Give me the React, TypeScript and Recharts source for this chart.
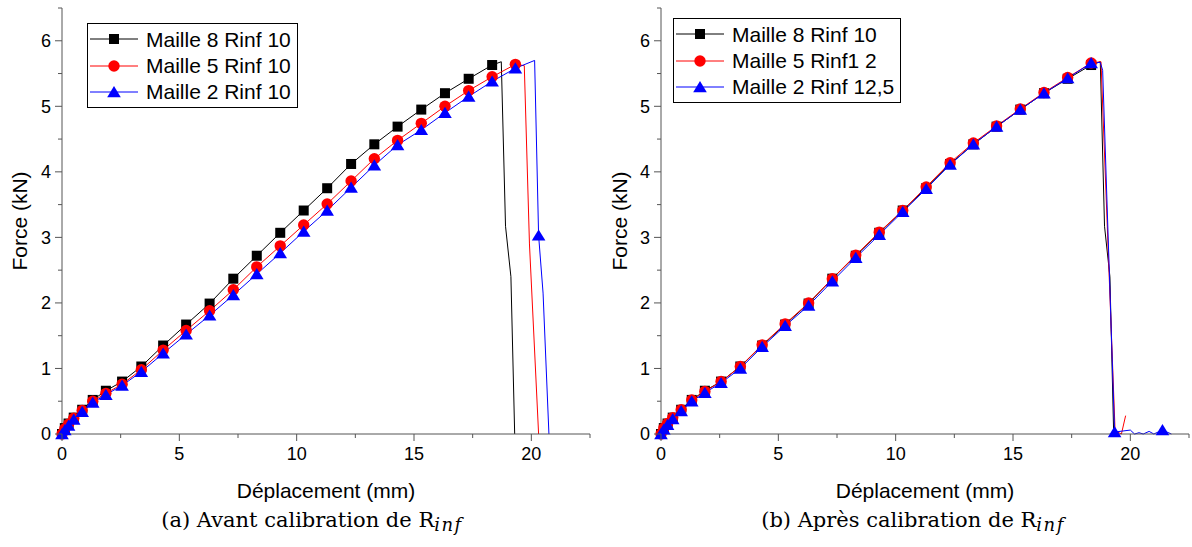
import { LineChart, Line, XAxis, YAxis, Legend } from "recharts"

const SANS = '"Liberation Sans", Arial, sans-serif'
const SERIF = '"DejaVu Serif", serif'
const AXIS = "#555555"

// axes
const xTicks = [0, 2.5, 5, 7.5, 10, 12.5, 15, 17.5, 20, 22.5]
const yTicks = [0, 0.5, 1, 1.5, 2, 2.5, 3, 3.5, 4, 4.5, 5, 5.5, 6, 6.5]

// déplacement (mm) of the marked points, shared by all curves
const stepX = [
  0, 0.12, 0.28, 0.5, 0.86, 1.31, 1.87, 2.56, 3.38, 4.31, 5.29, 6.29,
  7.3, 8.3, 9.3, 10.3, 11.3, 12.32, 13.31, 14.3, 15.31, 16.32, 17.33, 18.33,
]

// (a) avant calibration
const m8Force = [
  0, 0.09, 0.16, 0.25, 0.37, 0.52, 0.66, 0.8, 1.03, 1.35, 1.67, 1.99,
  2.37, 2.72, 3.07, 3.41, 3.75, 4.12, 4.42, 4.69, 4.95, 5.2, 5.42, 5.63,
]
const m8TailX = [18.72, 18.9, 19.13, 19.29]
const m8TailF = [5.68, 3.17, 2.4, 0]
const m8TailMarks: number[] = []

const m5aForce = [
  0, 0.08, 0.15, 0.24, 0.36, 0.5, 0.62, 0.76, 0.98, 1.28, 1.58, 1.88,
  2.2, 2.55, 2.87, 3.19, 3.51, 3.86, 4.2, 4.48, 4.74, 5.0, 5.24, 5.45,
]
const m5aTailX = [19.32, 19.7, 19.92, 20.31]
const m5aTailF = [5.64, 5.62, 2.9, 0]
const m5aTailMarks = [0]

const m2aForce = [
  0, 0.06, 0.13, 0.22, 0.34, 0.48, 0.6, 0.74, 0.95, 1.23, 1.52, 1.81,
  2.12, 2.44, 2.76, 3.09, 3.41, 3.76, 4.1, 4.41, 4.64, 4.9, 5.15, 5.38,
]
const m2aTailX = [19.32, 20.14, 20.31, 20.5, 20.75]
const m2aTailF = [5.58, 5.7, 3.03, 2.15, 0]
const m2aTailMarks = [0, 2]

// (b) après calibration
const m5bForce = [
  0, 0.09, 0.16, 0.25, 0.37, 0.52, 0.65, 0.8, 1.03, 1.36, 1.68, 2.0,
  2.37, 2.73, 3.08, 3.41, 3.77, 4.14, 4.44, 4.7, 4.96, 5.21, 5.44, 5.66,
]
const m5bTailX = [18.75, 19.35, 19.62, 19.8]
const m5bTailF = [5.68, 0.05, 0, 0.28]
const m5bTailMarks: number[] = []

const m2bForce = [
  0, 0.07, 0.14, 0.23, 0.35, 0.5, 0.63, 0.78, 1.0, 1.33, 1.65, 1.96,
  2.33, 2.69, 3.04, 3.39, 3.74, 4.11, 4.42, 4.69, 4.95, 5.2, 5.43, 5.66,
]
const m2bTailX = [18.72, 18.82, 19.33, 20.0, 20.18, 20.37, 20.55, 20.8, 21.0, 21.37, 21.75]
const m2bTailF = [5.67, 5.55, 0.03, 0.06, 0, 0.02, 0, 0.04, 0, 0.06, 0]
const m2bTailMarks = [2, 9]

type Pt = { x: number; y: number; mark: boolean }
type Serie = { name: string; color: string; shape: string; data: Pt[] }

const build = (f: number[], tx: number[], tf: number[], tm: number[]): Pt[] => [
  ...stepX.map((x, i) => ({ x, y: f[i], mark: true })),
  ...tx.map((x, i) => ({ x, y: tf[i], mark: tm.includes(i) })),
]

const leftSeries: Serie[] = [
  { name: "Maille 8 Rinf 10", color: "#000000", shape: "square", data: build(m8Force, m8TailX, m8TailF, m8TailMarks) },
  { name: "Maille 5 Rinf 10", color: "#ff0000", shape: "circle", data: build(m5aForce, m5aTailX, m5aTailF, m5aTailMarks) },
  { name: "Maille 2 Rinf 10", color: "#0000ff", shape: "triangle", data: build(m2aForce, m2aTailX, m2aTailF, m2aTailMarks) },
]

const rightSeries: Serie[] = [
  { name: "Maille 8 Rinf 10", color: "#000000", shape: "square", data: build(m8Force, m8TailX, m8TailF, m8TailMarks) },
  { name: "Maille 5 Rinf1 2", color: "#ff0000", shape: "circle", data: build(m5bForce, m5bTailX, m5bTailF, m5bTailMarks) },
  { name: "Maille 2 Rinf 12,5", color: "#0000ff", shape: "triangle", data: build(m2bForce, m2bTailX, m2bTailF, m2bTailMarks) },
]

function Marker({ shape, cx, cy, color }: { shape: string; cx: number; cy: number; color: string }) {
  if (shape === "square") return <rect x={cx - 5} y={cy - 5} width={10} height={10} fill={color} />
  if (shape === "circle") return <circle cx={cx} cy={cy} r={5.7} fill={color} />
  return <polygon points={`${cx},${cy - 6} ${cx - 6.8},${cy + 5.2} ${cx + 6.8},${cy + 5.2}`} fill={color} />
}

const dotFor = (shape: string, color: string) => (p: any) =>
  p.payload.mark ? (
    <g key={p.index}>
      <Marker shape={shape} cx={p.cx} cy={p.cy} color={color} />
    </g>
  ) : (
    <g key={p.index} />
  )

function XTick(props: any) {
  const { x, y, payload } = props
  const major = payload.value % 5 === 0
  return (
    <g>
      <line x1={x} x2={x} y1={y} y2={y + (major ? 7 : 4)} stroke={AXIS} />
      {major && (
        <text x={x} y={y + 26} textAnchor="middle" fontSize={18} fontFamily={SANS} fill="#000">
          {payload.value}
        </text>
      )}
    </g>
  )
}

function YTick(props: any) {
  const { x, y, payload } = props
  const major = Number.isInteger(payload.value)
  return (
    <g>
      <line x1={x} x2={x - (major ? 7 : 4)} y1={y} y2={y} stroke={AXIS} />
      {major && (
        <text x={x - 11} y={y} dy="0.36em" textAnchor="end" fontSize={18} fontFamily={SANS} fill="#000">
          {payload.value}
        </text>
      )}
    </g>
  )
}

function LegendBox({ series }: { series: Serie[] }) {
  return (
    <div
      style={{
        border: "1px solid #000",
        background: "#fff",
        padding: "2px 6px 2px 2px",
        fontFamily: SANS,
        fontSize: 21,
        lineHeight: 1,
      }}
    >
      {series.map((s) => (
        <div key={s.name} style={{ display: "flex", alignItems: "center", height: 26.4 }}>
          <svg width={48} height={20} style={{ display: "block" }}>
            <line x1={0} x2={48} y1={10} y2={10} stroke={s.color} strokeWidth={1} />
            <Marker shape={s.shape} cx={24} cy={10} color={s.color} />
          </svg>
          <span style={{ marginLeft: 8, whiteSpace: "nowrap" }}>{s.name}</span>
        </div>
      ))}
    </div>
  )
}

function Panel({
  width,
  marginRight,
  yAxisWidth,
  series,
  legendLeft,
  legendTop,
}: {
  width: number
  marginRight: number
  yAxisWidth: number
  series: Serie[]
  legendLeft: number
  legendTop: number
}) {
  return (
    <LineChart width={width} height={512} margin={{ top: 8, right: marginRight, bottom: 48, left: 0 }}>
      <XAxis
        type="number"
        dataKey="x"
        domain={[0, 22.5]}
        ticks={xTicks}
        interval={0}
        height={30}
        tickSize={0}
        tickMargin={0}
        tickLine={false}
        stroke={AXIS}
        tick={<XTick />}
        label={{ value: "Déplacement (mm)", position: "bottom", offset: 19, fontSize: 21, fontFamily: SANS, fill: "#000" }}
      />
      <YAxis
        type="number"
        domain={[0, 6.5]}
        ticks={yTicks}
        interval={0}
        width={yAxisWidth}
        tickSize={0}
        tickMargin={0}
        tickLine={false}
        stroke={AXIS}
        tick={<YTick />}
        label={{
          value: "Force (kN)",
          angle: -90,
          position: "insideLeft",
          offset: 20,
          style: { textAnchor: "middle" },
          fontSize: 21,
          fontFamily: SANS,
          fill: "#000",
        }}
      />
      <Legend
        layout="vertical"
        align="center"
        verticalAlign="middle"
        wrapperStyle={{ left: legendLeft, top: legendTop, width: "auto" }}
        content={() => <LegendBox series={series} />}
      />
      {series.map((s) => (
        <Line
          key={s.name}
          data={s.data}
          dataKey="y"
          name={s.name}
          type="linear"
          stroke={s.color}
          strokeWidth={1}
          dot={dotFor(s.shape, s.color)}
          activeDot={false}
          isAnimationActive={false}
        />
      ))}
    </LineChart>
  )
}

const captionStyle = {
  position: "absolute" as const,
  top: 508,
  textAlign: "center" as const,
  fontFamily: SERIF,
  fontSize: 21,
  color: "#000",
  whiteSpace: "nowrap" as const,
}

const subStyle = {
  fontStyle: "italic" as const,
  fontSize: 18,
  position: "relative" as const,
  top: 4,
  letterSpacing: 1.5,
}

export default function App() {
  return (
    <div style={{ position: "absolute", left: 0, top: 0, width: 1192, height: 547, background: "#fff", overflow: "hidden" }}>
      <div style={{ position: "absolute", left: 0, top: 0 }}>
        <Panel width={600} marginRight={10} yAxisWidth={62} series={leftSeries} legendLeft={87} legendTop={23} />
      </div>
      <div style={{ position: "absolute", left: 600, top: 0 }}>
        <Panel width={592} marginRight={3} yAxisWidth={61} series={rightSeries} legendLeft={73} legendTop={18} />
      </div>
      <div style={{ ...captionStyle, left: 0, width: 624 }}>
        (a) Avant calibration de R<span style={subStyle}>inf</span>
      </div>
      <div style={{ ...captionStyle, left: 602, width: 622 }}>
        (b) Après calibration de R<span style={subStyle}>inf</span>
      </div>
    </div>
  )
}
